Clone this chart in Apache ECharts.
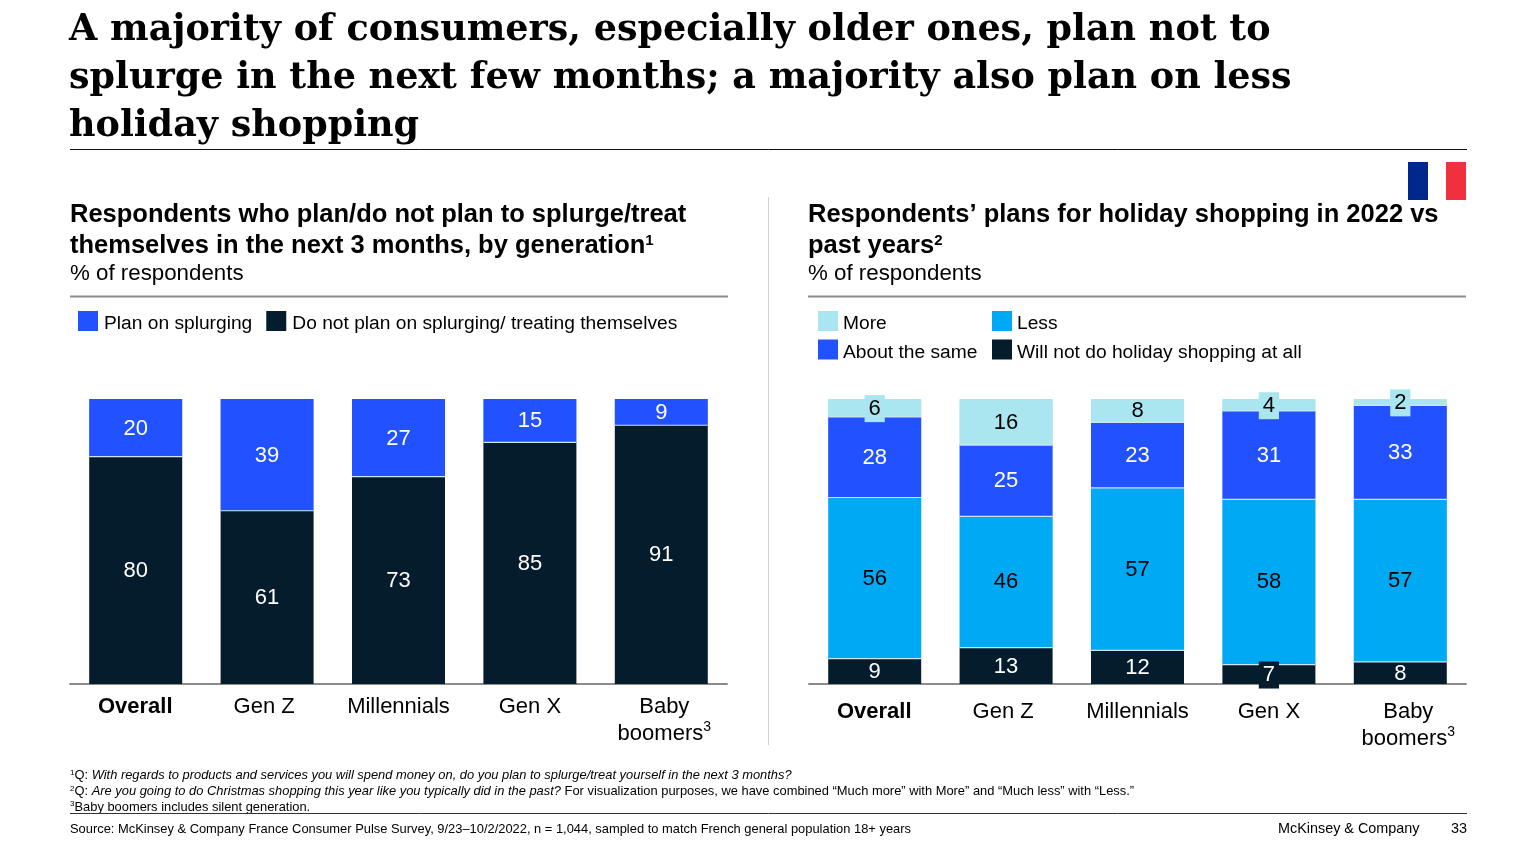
<!DOCTYPE html>
<html><head><meta charset="utf-8">
<style>html,body{margin:0;padding:0;background:#fff}#c{width:1536px;height:864px}</style>
<script src="https://cdn.jsdelivr.net/npm/echarts@6/dist/echarts.min.js"></script>
</head><body><div id="c"></div>
<script>
const categories = ['Overall','Gen Z','Millennials','Gen X','Baby\nboomers'];
const planSplurge = [20,39,27,15,9];
const noSplurge = [80,61,73,85,91];
const more = [6,16,8,4,2];
const same = [28,25,23,31,33];
const less = [56,46,57,58,57];
const noShopping = [9,13,12,7,8];
const titleLines = ['A majority of consumers, especially older ones, plan not to','splurge in the next few months; a majority also plan on less','holiday shopping'];
const leftHead = ['Respondents who plan/do not plan to splurge/treat','themselves in the next 3 months, by generation{hs|1}'];
const rightHead = ['Respondents’ plans for holiday shopping in 2022 vs','past years{hs|2}'];
const unitText = '% of respondents';
const foot = ['{s|1}Q: {i|With regards to products and services you will spend money on, do you plan to splurge/treat yourself in the next 3 months?}',
 '{s|2}Q: {i|Are you going to do Christmas shopping this year like you typically did in the past?} For visualization purposes, we have combined “Much more” with More” and “Much less” with “Less.”',
 '{s|3}Baby boomers includes silent generation.'];
const sourceText = 'Source: McKinsey & Company France Consumer Pulse Survey, 9/23–10/2/2022, n = 1,044, sampled to match French general population 18+ years';

const DARK='#051C2C',BLUE='#2251FF',CYAN='#00A9F4',LIGHT='#AAE6F0';
const SANS='"Liberation Sans",Arial,sans-serif';
const rightTotals = categories.map((_,i)=>more[i]+same[i]+less[i]+noShopping[i]);

function seg(name,vals,color,txt,g,totals,badgeBelow,upper){
  return {type:'bar',name,stack:'s'+g,xAxisIndex:g,yAxisIndex:g,barWidth:93,
    itemStyle:Object.assign({color,borderWidth:0},upper?{shadowColor:'#cfe6f2',shadowBlur:0,shadowOffsetY:1.2}:{}),
    emphasis:{disabled:true},
    data:vals.map((v,i)=>{
      const d={value:v/totals[i]*100,raw:v};
      const small=badgeBelow&&v<=badgeBelow;
      d.label={show:true,position:'inside',color:txt,fontFamily:SANS,fontSize:22,offset:[0,1],
        formatter:String(v),
        backgroundColor:small?color:'transparent',padding:small?[4,4,1,4]:0};
      return d;
    })};
}
const sup={fontSize:14,verticalAlign:'top',lineHeight:22,fontFamily:SANS,color:'#000'};
function xAx(g,margin,zPad,bbPad){
  const rp=p=>({fontSize:22,fontFamily:SANS,color:'#000',lineHeight:27,padding:p});
  return {type:'category',gridIndex:g,data:categories,
  axisTick:{show:false},axisLine:{lineStyle:{color:'#8c8c8c',width:2}},
  axisLabel:{margin,color:'#000',fontFamily:SANS,fontSize:22,lineHeight:27,interval:0,
   formatter:v=>{
     if(v==='Overall')return '{b|Overall}';
     if(v==='Gen Z')return '{z|Gen Z}';
     if(v.indexOf('boomers')>=0)return v.split('\n').map(s=>'{p|'+s+'}').join('\n')+'{sup|3}';
     return v;
   },
   rich:{b:{fontWeight:'bold',fontSize:22,fontFamily:SANS,color:'#000',lineHeight:27,padding:[0,1,0,0]},z:rp([0,zPad,0,0]),p:rp([0,0,0,bbPad]),sup}}};}
function yAx(g){return {type:'value',gridIndex:g,min:0,max:100,show:false};}

const T=(text,x,y,o={})=>({type:'text',silent:true,style:Object.assign({text,x,y,fill:'#000',fontFamily:SANS,fontSize:22.3,textVerticalAlign:'middle'},o)});
const L=(x1,y1,x2,y2,c,w)=>({type:'line',silent:true,shape:{x1,y1,x2,y2},style:{stroke:c,lineWidth:w}});
const R=(x,y,width,height,c)=>({type:'rect',silent:true,shape:{x,y,width,height},style:{fill:c}});
const hRich={hs:{fontSize:15,verticalAlign:'top',lineHeight:20,fontWeight:'bold',fontFamily:SANS,fill:'#000',color:'#000'}};
const HEAD={fontWeight:'bold',fontSize:25.5,rich:hRich};
const fRich={s:{fontSize:8,verticalAlign:'top',lineHeight:14,fontFamily:SANS,fill:'#000'},i:{fontStyle:'italic',fontSize:12.9,fontFamily:SANS,fill:'#000'}};
const FOOT={fontSize:12.9,rich:fRich};

const graphic=[
 ...titleLines.map((t,i)=>T(t,69,31+48*i,{fontFamily:'"DejaVu Serif",serif',fontWeight:'bold',fontSize:36.5})),
 L(70,149.5,1467,149.5,'#111',1),
 R(1408,162,20,38,'#00288C'),R(1446,162,20,38,'#F0303F'),
 L(768.5,197,768.5,745,'#d0d0d0',1),
 ...leftHead.map((t,i)=>T(t,70,215+31*i,HEAD)),
 ...rightHead.map((t,i)=>T(t,808,215+31*i,HEAD)),
 T(unitText,70,274),T(unitText,808,274),
 L(70,296.5,728,296.5,'#8c8c8c',2),L(808,296.5,1466,296.5,'#8c8c8c',2),
 ...foot.map((t,i)=>T(t,70,775.5+15.8*i,FOOT)),
 L(70,813.5,1467,813.5,'#333',1),
 T(sourceText,70,829,{fontSize:12.9}),
 T('McKinsey & Company',1278,829.5,{fontSize:14.4}),
 T('33',1451,829.5,{fontSize:14.4}),
];
const lg=(pl)=>({icon:'rect',itemWidth:20,itemHeight:20,formatter:'{t|{name}}',
  textStyle:{color:'#000',fontFamily:SANS,fontSize:19.2,rich:{t:{color:'#000',fontFamily:SANS,fontSize:19.2,padding:[6,0,0,pl]}}},
  selectedMode:false,itemStyle:{borderWidth:0,shadowBlur:0,shadowOffsetY:0}});
const leftTotals=categories.map(()=>100);
const option={animation:false,
 grid:[{left:70,width:657,top:399,height:285},{left:809,width:657,top:399,height:285}],
 xAxis:[xAx(0,9,6,6),xAx(1,14,6,16)],yAxis:[yAx(0),yAx(1)],
 legend:[
  Object.assign({},lg(1),{left:78,top:311,padding:0,orient:'horizontal',itemGap:14,data:['Plan on splurging','Do not plan on splurging/ treating themselves']}),
  Object.assign({},lg(0),{left:818,top:311,padding:0,orient:'vertical',itemGap:6,data:['More','About the same']}),
  Object.assign({},lg(0),{left:992,top:311,padding:0,orient:'vertical',itemGap:6,data:['Less','Will not do holiday shopping at all']})
 ],
 series:[
  seg('Do not plan on splurging/ treating themselves',noSplurge,DARK,'#fff',0,leftTotals),
  seg('Plan on splurging',planSplurge,BLUE,'#fff',0,leftTotals,0,true),
  seg('Will not do holiday shopping at all',noShopping,DARK,'#fff',1,rightTotals,7),
  seg('Less',less,CYAN,'#000',1,rightTotals,0,true),
  seg('About the same',same,BLUE,'#fff',1,rightTotals,0,true),
  seg('More',more,LIGHT,'#000',1,rightTotals,6,true)
 ],
 graphic
};
echarts.init(document.getElementById('c'),null,{renderer:'canvas'}).setOption(option);
</script></body></html>
